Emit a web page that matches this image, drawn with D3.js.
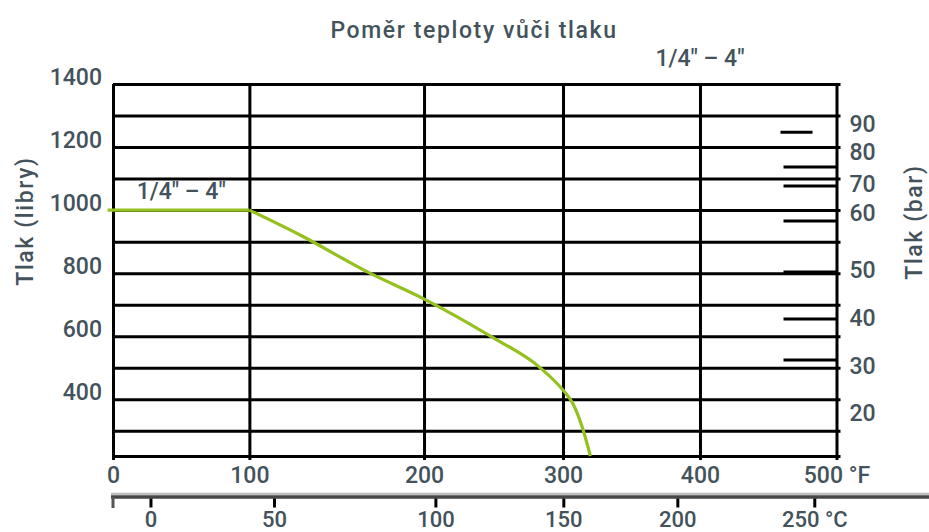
<!DOCTYPE html>
<html>
<head>
<meta charset="utf-8">
<script src="https://cdn.jsdelivr.net/npm/d3@7"></script>
<style>
    body { margin: 0; background: #fff; }
    text { font-family: Roboto, sans-serif; font-weight: 500; fill: #43525b; }
</style>
</head>
<body>
<svg class="pressureChart" width="929" height="532"></svg>
<script>
const chartTitle = 'Poměr teploty vůči tlaku';
const sizeLabel = '1/4" – 4"';
const leftTitle = 'Tlak (libry)';
const rightTitle = 'Tlak (bar)';

const fahrenheitTicks = [0, 100, 200, 300, 400, 500];
const celsiusTicks = [0, 50, 100, 150, 200, 250];
const psiLabels = [400, 600, 800, 1000, 1200, 1400];
const psiGrid = [300, 400, 500, 600, 700, 800, 900, 1000, 1100, 1200, 1300, 1400];

// bar scale as printed on the right, read against the psi axis
const barLabels = [90, 80, 70, 60, 50, 40, 30, 20];
const barLabelPsi = [1273, 1184, 1083, 991, 810, 658, 505, 356];
const barMarks = [87.1, 75.3, 69.3, 58.6, 49.6, 39.8, 31.3];

// rating curve, temperature in °F vs pressure in psi
const curveF = [-4, 100, 129, 169, 199, 249, 283, 300, 307, 314, 320];
const curvePsi = [1000, 1000, 921, 800, 721, 597, 502, 429, 388, 312, 220];

function renderChart() {
    const svg = d3.select('.pressureChart');

    const width = +svg.attr('width');
    const height = +svg.attr('height');

    const margin = { top: 84, right: 92.5, bottom: 76, left: 113 };
    const innerWidth = width - margin.left - margin.right;
    const innerHeight = height - margin.top - margin.bottom;

    // the printed °F and °C axes are not evenly spaced
    const x = d3.scaleLinear()
        .domain(fahrenheitTicks)
        .range([0, 0.1885, 0.4299, 0.622, 0.8113, 1].map(f => f * innerWidth));

    const xC = d3.scaleLinear()
        .domain(celsiusTicks)
        .range([0.0518, 0.2225, 0.4456, 0.6224, 0.78, 0.9693].map(f => f * innerWidth));

    const y = d3.scaleLinear()
        .domain([220, 1400])
        .range([innerHeight, 0]);

    const yBar = d3.scaleLinear()
        .domain(barLabels)
        .range(barLabelPsi.map(p => y(p)));

    const g = svg.append('g')
        .attr('transform', `translate(${margin.left}, ${margin.top})`);

    // horizontal grid
    g.append('g')
        .call(d3.axisLeft(y)
            .tickValues([y.domain()[0], ...psiGrid])
            .tickSize(-(innerWidth + 4))
            .tickFormat(''))
        .call(a => a.select('.domain').remove())
        .selectAll('line')
        .attr('stroke', '#000')
        .attr('stroke-width', 3);

    // vertical grid + °F labels
    g.append('g')
        .attr('transform', `translate(0, ${innerHeight + 4})`)
        .call(d3.axisBottom(x)
            .tickValues(fahrenheitTicks)
            .tickSize(-(innerHeight + 4))
            .tickPadding(7)
            .tickFormat(d => d === 500 ? '500 °F' : d))
        .call(a => a.select('.domain').remove())
        .call(a => a.selectAll('line').attr('stroke', '#000').attr('stroke-width', 3))
        .selectAll('text')
        .style('font-size', '23px')
        .attr('fill', null);

    // psi labels
    g.append('g')
        .call(d3.axisLeft(y)
            .tickValues(psiLabels)
            .tickSize(0)
            .tickPadding(11)
            .tickFormat(d3.format('d')))
        .call(a => a.select('.domain').remove())
        .selectAll('text')
        .attr('y', -7)
        .style('font-size', '23px')
        .attr('fill', null);

    // bar labels on the right
    g.append('g')
        .attr('transform', `translate(${innerWidth}, 0)`)
        .call(d3.axisRight(yBar)
            .tickValues(barLabels)
            .tickSize(0)
            .tickPadding(13))
        .call(a => a.select('.domain').remove())
        .selectAll('text')
        .style('font-size', '23px')
        .attr('fill', null);

    g.append('g')
        .selectAll('line')
        .data(barMarks)
        .join('line')
        .attr('x1', (d, i) => i === 0 ? innerWidth - 56 : innerWidth - 53)
        .attr('x2', (d, i) => i === 0 ? innerWidth - 24 : innerWidth)
        .attr('y1', d => yBar(d))
        .attr('y2', d => yBar(d))
        .attr('stroke', '#000')
        .attr('stroke-width', 3);

    // °C axis below
    const cY = innerHeight + 41;
    g.append('line')
        .attr('x1', -2).attr('x2', width)
        .attr('y1', cY - 3).attr('y2', cY - 3)
        .attr('stroke', '#bdbdbd')
        .attr('stroke-width', 2.5);
    g.append('line')
        .attr('x1', -2).attr('x2', width)
        .attr('y1', cY).attr('y2', cY)
        .attr('stroke', '#474747')
        .attr('stroke-width', 3.5);

    g.append('line')
        .attr('x1', x(0)).attr('x2', x(0))
        .attr('y1', cY).attr('y2', cY + 11)
        .attr('stroke', '#555')
        .attr('stroke-width', 3);

    g.append('g')
        .attr('transform', `translate(0, ${cY + 1.5})`)
        .call(d3.axisBottom(xC)
            .tickValues(celsiusTicks)
            .tickSize(9)
            .tickPadding(4)
            .tickFormat(d => d === 250 ? '250 °C' : d))
        .call(a => a.select('.domain').remove())
        .call(a => a.selectAll('line').attr('stroke', '#000').attr('stroke-width', 3))
        .selectAll('text')
        .style('font-size', '22px')
        .attr('fill', null);

    // rating curve: flat part, then the falling part (sharp corner at 100 °F)
    const curve = curveF.map((f, i) => ({ f, psi: curvePsi[i] }));
    const line = d3.line()
        .x(d => x(d.f))
        .y(d => y(d.psi))
        .curve(d3.curveMonotoneX);

    g.selectAll('path.rating')
        .data([curve.slice(0, 2), curve.slice(1)])
        .join('path')
        .attr('class', 'rating')
        .attr('fill', 'none')
        .attr('stroke', '#94c11f')
        .attr('stroke-width', 3.2)
        .attr('d', line);

    g.append('text')
        .attr('x', x(50))
        .attr('y', y(1000) - 11)
        .attr('text-anchor', 'middle')
        .style('font-size', '23px')
        .text(sizeLabel);

    // titles
    svg.append('text')
        .attr('x', 474)
        .attr('y', 38)
        .attr('text-anchor', 'middle')
        .style('font-size', '23px')
        .style('letter-spacing', '1.6px')
        .text(chartTitle);

    g.append('text')
        .attr('x', x(400))
        .attr('y', -18)
        .attr('text-anchor', 'middle')
        .style('font-size', '23px')
        .text(sizeLabel);

    svg.append('text')
        .attr('transform', `translate(33, 221) rotate(-90)`)
        .attr('text-anchor', 'middle')
        .style('font-size', '23px')
        .style('letter-spacing', '1.6px')
        .text(leftTitle);

    svg.append('text')
        .attr('transform', `translate(922, 222) rotate(-90)`)
        .attr('text-anchor', 'middle')
        .style('font-size', '23px')
        .style('letter-spacing', '1.6px')
        .text(rightTitle);
}

renderChart();
</script>
</body>
</html>
